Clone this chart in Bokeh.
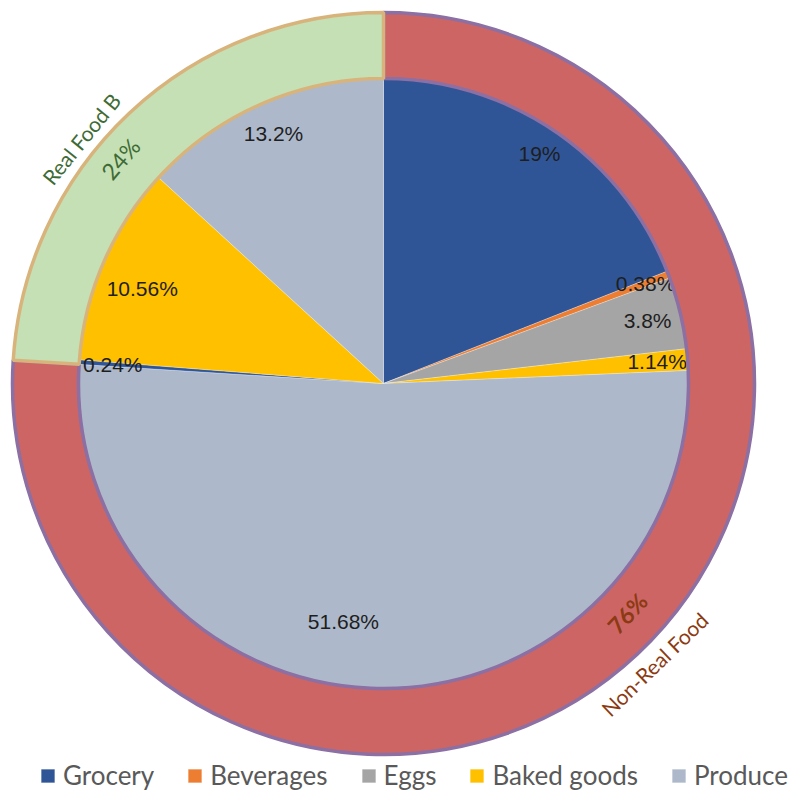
import math
from bokeh.plotting import figure
from bokeh.models import ColumnDataSource, Range1d
from bokeh.core.properties import value
from bokeh.embed import file_html
from bokeh.resources import INLINE

# ---- data ----
categories = ["Grocery", "Beverages", "Eggs", "Baked goods", "Produce",
              "Grocery", "Baked goods", "Produce"]
inner_values = [19, 0.38, 3.8, 1.14, 51.68, 0.24, 10.56, 13.2]
inner_labels = ["19%", "0.38%", "3.8%", "1.14%", "51.68%", "0.24%", "10.56%", "13.2%"]

ring_names = ["Non-Real Food", "Real Food B"]
ring_values = [76, 24]
ring_labels = ["76%", "24%"]

# ---- styles ----
cat_colors = {"Grocery": "#2F5597", "Beverages": "#ED7D31", "Eggs": "#A5A5A5",
              "Baked goods": "#FFC000", "Produce": "#ADB9CA"}
ring_fill = ["#CD6565", "#C5E0B4"]
ring_line = ["#8C6FA3", "#D8B47C"]
ring_text_color = ["#8B3A12", "#3E6B35"]
ring_pct_weight = ["bold", "normal"]

R_PIE = 305
R_OUT = 371
# label placement (radius fraction, angular shift in degrees clockwise)
lab_r = [0.91, 0.92, 0.89, 0.90, 0.79, 0.89, 0.85, 0.895]
lab_shift = [0, 0, 0, 0, 9, 0, -2, 0]
ring_pct_r = [335, 346]
ring_pct_shift = [-3.5, -6.3]
ring_name_r = [390, 389]
ring_name_shift = [-0.8, -7.8]

def wedges(vals):
    tot = sum(vals)
    starts, ends, mids = [], [], []
    c = 0.0
    for v in vals:
        a0 = c / tot * 360
        c += v
        a1 = c / tot * 360
        starts.append(math.radians(90 - a0))
        ends.append(math.radians(90 - a1))
        mids.append((a0 + a1) / 2)  # clockwise degrees from top
    return starts, ends, mids

p = figure(width=793, height=792, x_range=Range1d(-383, 410), y_range=Range1d(-409, 383),
           x_axis_type=None, y_axis_type=None, toolbar_location=None,
           output_backend="svg", min_border=0, outline_line_color=None)
p.grid.visible = False

# inner pie
s, e, m = wedges(inner_values)
pie_src = ColumnDataSource(dict(cat=categories, val=inner_values, start=s, end=e,
                                color=[cat_colors[c] for c in categories]))
p.wedge(x=0, y=0, radius=R_PIE, start_angle="start", end_angle="end", direction="clock",
        fill_color="color", line_color="#FFFFFF", line_alpha=0.35, line_width=0.8,
        legend_field="cat", source=pie_src)

lx, ly = [], []
for i, mid in enumerate(m):
    a = math.radians(90 - (mid + lab_shift[i]))
    r = lab_r[i] * R_PIE
    lx.append(r * math.cos(a))
    ly.append(r * math.sin(a))
p.text(x=lx, y=ly, text=inner_labels, text_align="center", text_baseline="middle",
       text_font=value("Liberation Sans"), text_font_size="21px", text_color="#1E1E1E")

# outer ring
rs, re_, rm = wedges(ring_values)
ring_src = ColumnDataSource(dict(name=ring_names, val=ring_values, start=rs, end=re_,
                                 fill=ring_fill, line=ring_line))
p.annular_wedge(x=0, y=0, inner_radius=R_PIE, outer_radius=R_OUT, start_angle="start",
                end_angle="end", direction="clock", fill_color="fill", line_color="line",
                line_width=3.5, source=ring_src)

for i, mid in enumerate(rm):
    for txt, rad, sh, weight, size in [
        (ring_labels[i], ring_pct_r[i], ring_pct_shift[i], ring_pct_weight[i], "23px"),
        (ring_names[i], ring_name_r[i], ring_name_shift[i], "normal", "21px")]:
        ang = mid + sh
        a = math.radians(90 - ang)
        x = rad * math.cos(a)
        y = rad * math.sin(a)
        if math.sin(a) >= 0:
            rot = a - math.pi / 2
        else:
            rot = a + math.pi / 2
        p.text(x=[x], y=[y], text=[txt], angle=rot, text_align="center",
               text_baseline="middle", text_font=value("Lato"), text_font_size=size,
               text_font_style=weight, text_color=ring_text_color[i])

lg = p.legend[0]
lg.orientation = "horizontal"
lg.location = (39, 1)
lg.label_text_font = "Lato"
lg.label_text_font_size = "26px"
lg.label_text_color = "#595959"
lg.glyph_width = 17
lg.glyph_height = 17
lg.label_standoff = 7
lg.spacing = 32
lg.padding = 0
lg.margin = 0
lg.border_line_alpha = 0
lg.background_fill_alpha = 0

open("out.html", "w").write(file_html(p, INLINE))
